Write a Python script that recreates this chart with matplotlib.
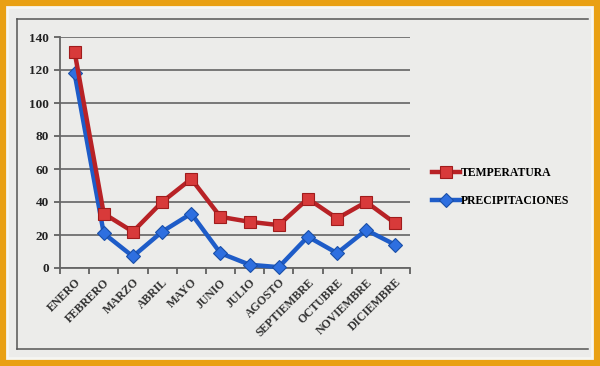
import matplotlib
matplotlib.use("Agg")
import matplotlib.pyplot as plt
from matplotlib.patches import Rectangle
from matplotlib.lines import Line2D

meses = ["ENERO", "FEBRERO", "MARZO", "ABRIL", "MAYO", "JUNIO", "JULIO",
         "AGOSTO", "SEPTIEMBRE", "OCTUBRE", "NOVIEMBRE", "DICIEMBRE"]
temperatura = [131, 33, 22, 40, 54, 31, 28, 26, 42, 30, 40, 27]
precipitaciones = [118, 21, 7, 22, 33, 9, 2, 0.5, 19, 9, 23, 14]
yticks = [0, 20, 40, 60, 80, 100, 120, 140]

plt.rcParams['font.family'] = ['Liberation Serif', 'DejaVu Serif']
plt.rcParams['font.weight'] = 'bold'

fig = plt.figure(figsize=(6, 3.66), dpi=100)
fig.patch.set_facecolor('#E9A013')
fig.patches.append(Rectangle((7/600, 8/366), 585/600, 351/366, transform=fig.transFigure,
                             facecolor='#ECECEA', edgecolor='#F6F6F2', lw=2, zorder=-2))
# inner frame (top, left, bottom)
for xs, ys in [((17, 588), (19, 19)), ((17, 17), (19, 349)), ((17, 588), (349, 349))]:
    fig.lines.append(Line2D([v/600 for v in xs], [1 - v/366 for v in ys],
                            transform=fig.transFigure, color='#555555', lw=1.1, zorder=-1))

ax = fig.add_axes([60/600, 1-268/366, 350/600, 231/366])
ax.set_zorder(5)
ax.set_facecolor('none')
x = list(range(len(meses)))

ax.plot(x, precipitaciones, color='#1E5CC8', lw=3.2, marker='D', ms=7,
        mfc='#2E6FE0', mec='#1A4FA8', mew=0.8, label='PRECIPITACIONES', zorder=3,
        clip_on=False)
ax.plot(x, temperatura, color='#B82226', lw=3.2, marker='s', ms=9,
        mfc='#D83A3A', mec='#A01C1C', mew=0.8, label='TEMPERATURA', zorder=4,
        clip_on=False)

ax.set_xlim(-0.5, len(meses) - 0.5)
ax.set_ylim(0, 140)
ax.set_yticks(yticks)
ax.set_yticklabels([str(v) for v in yticks], fontsize=9.5, fontweight='bold', color='#222222')
ax.yaxis.grid(True, color='#6e6e6e', lw=1.3)
ax.set_axisbelow(True)

ax.set_xticks(x)
ax.set_xticklabels(meses, rotation=45, ha='right', rotation_mode='anchor',
                   fontsize=8.5, fontweight='bold', color='#333333')
ax.set_xticks([i - 0.5 for i in range(len(meses) + 1)], minor=True)
ax.tick_params(axis='x', which='major', length=0, pad=6)
ax.tick_params(axis='x', which='minor', length=4, width=1.2, color='#555555')
ax.tick_params(axis='y', length=4, width=1.2, color='#555555', pad=4)

for s in ['top', 'right']:
    ax.spines[s].set_visible(False)
ax.spines['left'].set_color('#666666')
ax.spines['left'].set_linewidth(1.3)
ax.spines['bottom'].set_color('#666666')
ax.spines['bottom'].set_linewidth(1.3)

h, l = ax.get_legend_handles_labels()
fig.legend(h[::-1], l[::-1], loc='center left', bbox_to_anchor=(421/600, 1-187/366),
           frameon=False, handlelength=2.4, handletextpad=0.1,
           labelspacing=1.4, prop={'weight': 'bold', 'size': 8.5})

fig.savefig('out.png', dpi=100, facecolor=fig.get_facecolor())
